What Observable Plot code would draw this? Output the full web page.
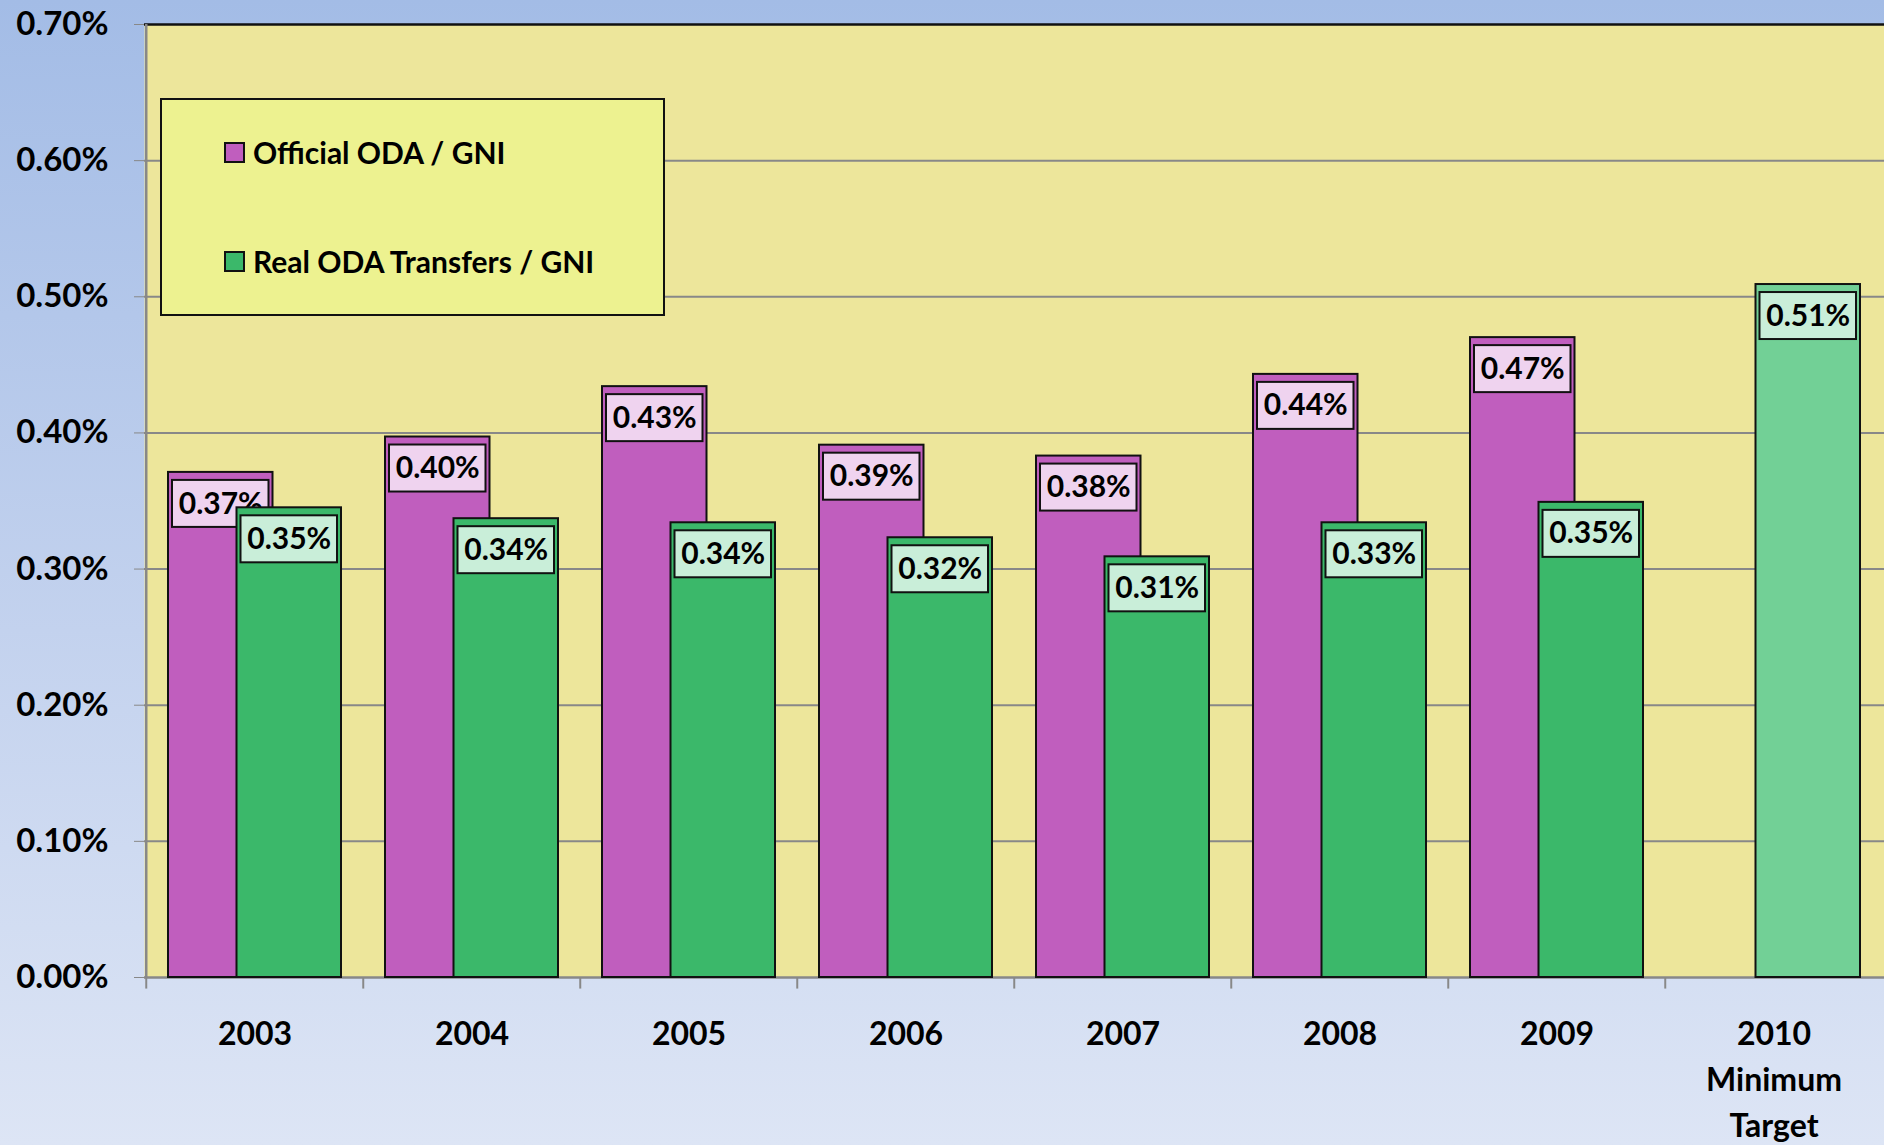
<!DOCTYPE html>
<html>
<head>
<meta charset="utf-8">
<script src="https://cdn.jsdelivr.net/npm/d3@7"></script>
<script src="https://cdn.jsdelivr.net/npm/@observablehq/plot@0.6"></script>
<style>
  html, body { margin: 0; padding: 0; overflow: hidden; }
  body {
    width: 1884px; height: 1145px; position: relative;
    background: linear-gradient(to bottom, #A3BCE6 0%, #C3D2EE 55%, #DDE5F5 100%);
    font-family: Lato, "Open Sans", sans-serif;
  }
  #chart { position: absolute; left: 0; top: 0; }
  #legend {
    position: absolute; left: 160px; top: 98px; width: 505px; height: 218px;
    background: #EDF290; border: 2px solid #111; box-sizing: border-box;
    font-weight: bold; font-size: 30px; color: #000;
  }
  .item { position: absolute; left: 62px; display: flex; align-items: center; }
  .sw { width: 17px; height: 17px; border: 2px solid #111; margin-right: 8px; }
</style>
</head>
<body>
<div id="chart"></div>
<div id="legend">
  <div class="item" style="top:34px"><span class="sw" style="background:#C05EBE"></span>Official ODA / GNI</div>
  <div class="item" style="top:143px"><span class="sw" style="background:#3BB86A"></span>Real ODA Transfers / GNI</div>
</div>
<script>
const years = ["2003", "2004", "2005", "2006", "2007", "2008", "2009", "2010"];
const yearLabels = ["2003", "2004", "2005", "2006", "2007", "2008", "2009", "2010\nMinimum\nTarget"];
const officialODA = [0.371, 0.397, 0.434, 0.391, 0.383, 0.443, 0.470, null];
const realODA = [0.345, 0.337, 0.334, 0.323, 0.309, 0.334, 0.349, 0.509];
const officialLabels = ["0.37%", "0.40%", "0.43%", "0.39%", "0.38%", "0.44%", "0.47%", null];
const realLabels = ["0.35%", "0.34%", "0.34%", "0.32%", "0.31%", "0.33%", "0.35%", "0.51%"];
const yTicks = [0, 0.1, 0.2, 0.3, 0.4, 0.5, 0.6, 0.7];

const W = 1884, H = 1145, ML = 144, MR = 0, MT = 24, MB = 168;
const BW = (W - ML - MR) / years.length;
const PAD = 22, BARW = 105;
const inL1 = PAD, inR1 = BW - PAD - BARW;
const inL2 = BW - PAD - BARW, inR2 = PAD;
const c1 = PAD + BARW / 2 - BW / 2;
const c2 = BW - PAD - BARW / 2 - BW / 2;

const off = years.map((y, i) => ({year: y, v: officialODA[i], label: officialLabels[i]})).filter(d => d.v != null);
const real = years.map((y, i) => ({year: y, v: realODA[i], label: realLabels[i], target: y === "2010"}));

const labelBox = (data, inL, inR, fill) => Plot.barY(data, {
  x: "year", y1: "v", y2: "v",
  insetLeft: inL + 4, insetRight: inR + 4, insetTop: 8, insetBottom: -55,
  fill, stroke: "#111", strokeWidth: 2
});

const chart = Plot.plot({
  width: W, height: H,
  marginLeft: ML, marginRight: MR, marginTop: MT, marginBottom: MB,
  style: {fontFamily: "Lato, 'Open Sans', sans-serif", background: "transparent", color: "#000", overflow: "visible"},
  x: {type: "band", domain: years, paddingInner: 0, paddingOuter: 0},
  y: {domain: [0, 0.7]},
  marks: [
    Plot.frame({fill: "#EDE69B"}),
    Plot.ruleY(yTicks.slice(1, -1), {stroke: "#888", strokeWidth: 2}),
    Plot.ruleY([0.7], {stroke: "#111", strokeWidth: 2.5}),
    Plot.ruleY([0], {stroke: "#888", strokeWidth: 2.5}),
    Plot.ruleX([years[0]], {x: d => d, dx: -BW / 2, y1: 0, y2: 0.7, stroke: "#888", strokeWidth: 2.5}),
    Plot.ruleX(years.slice(0), {x: d => d, dx: -BW / 2, y1: 0, y2: -0.0085, stroke: "#888", strokeWidth: 2}),
    Plot.axisY({ticks: yTicks, tickFormat: d => d.toFixed(2) + "%", tickSize: 10, tickPadding: 26,
      stroke: "#888", fontSize: 33, fontWeight: "bold", label: null}),
    Plot.axisX({tickSize: 0, tickPadding: 35, tickFormat: (d, i) => yearLabels[years.indexOf(d)],
      fontSize: 32, fontWeight: "bold", lineHeight: 1.43, label: null}),
    Plot.barY(off, {x: "year", y: "v", insetLeft: inL1, insetRight: inR1, fill: "#C05EBE", stroke: "#111", strokeWidth: 2}),
    labelBox(off, inL1, inR1, "#EFD3EF"),
    Plot.text(off, {x: "year", y: "v", text: "label", dx: c1, dy: 31.5, fontSize: 30, fontWeight: "bold", fill: "#000"}),
    Plot.barY(real, {x: "year", y: "v", insetLeft: inL2, insetRight: inR2, fill: d => d.target ? "#72D096" : "#3BB86A", stroke: "#111", strokeWidth: 2}),
    labelBox(real, inL2, inR2, "#C9EED9"),
    Plot.text(real, {x: "year", y: "v", text: "label", dx: c2, dy: 31.5, fontSize: 30, fontWeight: "bold", fill: "#000"})
  ]
});
document.getElementById("chart").appendChild(chart);
</script>
</body>
</html>
